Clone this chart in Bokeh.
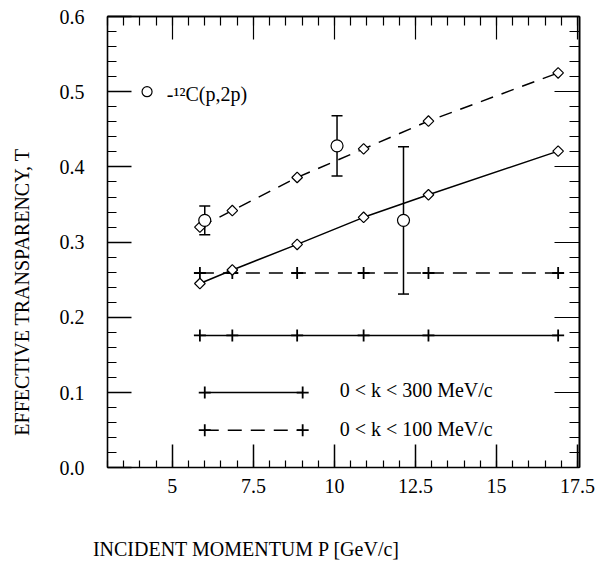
import math
from bokeh.plotting import figure
from bokeh.models import LinearAxis, FixedTicker, Range1d, Label
from bokeh.embed import file_html
from bokeh.resources import INLINE

# ---- data ----
p_model = [5.85, 6.85, 8.85, 10.9, 12.9, 16.9]
t_diamond_solid = [0.245, 0.263, 0.297, 0.333, 0.363, 0.421]
t_diamond_dashed = [0.320, 0.342, 0.386, 0.424, 0.461, 0.525]
t_cross_solid = [0.176, 0.176, 0.176, 0.176, 0.176, 0.176]
t_cross_dashed = [0.259, 0.259, 0.259, 0.259, 0.259, 0.259]

p_data = [6.0, 10.08, 12.13]
t_data = [0.329, 0.428, 0.329]
t_err = [0.019, 0.040, 0.098]

x_ticks = [5, 7.5, 10, 12.5, 15, 17.5]
x_tick_labels = ["5", "7.5", "10", "12.5", "15", "17.5"]
y_ticks = [0.0, 0.1, 0.2, 0.3, 0.4, 0.5, 0.6]
y_tick_labels = ["0.0", "0.1", "0.2", "0.3", "0.4", "0.5", "0.6"]

x_label = "INCIDENT MOMENTUM P [GeV/c]"
y_label = "EFFECTIVE TRANSPARENCY, T"
legend_c_label = "-\u00b9\u00b2C(p,2p)"
legend_solid_label = "0 < k < 300 MeV/c"
legend_dashed_label = "0 < k < 100 MeV/c"
legend_line_x = [6.0, 9.02]
legend_solid_y = [0.1, 0.1]
legend_dashed_y = [0.05, 0.05]

# ---- layout (plot box: x 3..17.545, y 0..0.6) ----
X0, X1 = 3.0, 17.545
Y0, Y1 = 0.0, 0.6
W, H = 598, 563
px_per_x = 32.42
px_per_y = 752.17
box_left_px, box_top_px = 107.0, 16.0
x_start = X0 - box_left_px / px_per_x
x_end = x_start + W / px_per_x
y_end = Y1 + box_top_px / px_per_y
y_start = y_end - H / px_per_y

FONT = "Liberation Serif"

p = figure(width=W, height=H, x_range=Range1d(x_start, x_end), y_range=Range1d(y_start, y_end),
           output_backend="svg", toolbar_location=None,
           min_border_left=0, min_border_right=0, min_border_top=0, min_border_bottom=0,
           x_axis_type=None, y_axis_type=None)
p.xgrid.visible = False
p.ygrid.visible = False
p.outline_line_color = None
p.background_fill_color = "white"
p.border_fill_color = "white"

x_minor = [3.0 + 0.5 * i for i in range(30)]
y_minor = [0.02 * i for i in range(31)]


def base_axis(loc, bounds, ticks, minor, major_in, minor_in):
    ax = LinearAxis(fixed_location=loc, bounds=bounds)
    ax.ticker = FixedTicker(ticks=ticks, minor_ticks=minor)
    ax.major_tick_in = major_in
    ax.major_tick_out = 0
    ax.minor_tick_in = minor_in
    ax.minor_tick_out = 0
    ax.axis_line_width = 1.6
    ax.axis_line_color = "black"
    ax.major_tick_line_width = 1.5
    ax.major_tick_line_color = "black"
    ax.minor_tick_line_width = 1.2
    ax.minor_tick_line_color = "black"
    ax.major_label_text_font = FONT
    ax.major_label_text_font_size = "20px"
    ax.major_label_text_color = "black"
    return ax


# bottom and left axes with labels
xb = base_axis(Y0, (X0, X1), x_ticks, x_minor, 23, 7)
xb.major_label_overrides = {t: l for t, l in zip(x_ticks, x_tick_labels)}
xb.major_label_standoff = 11
p.add_layout(xb, "below")

yl = base_axis(X0, (Y0, Y1), y_ticks, y_minor, 24, 9)
yl.major_label_overrides = {t: l for t, l in zip(y_ticks, y_tick_labels)}
yl.major_label_standoff = 23
p.add_layout(yl, "left")

# top and right mirrored ticks (no labels): long ticks and short ticks
p.add_layout(base_axis(Y1, (X0, X1), [], x_ticks, 0, 23), "above")
p.add_layout(base_axis(Y1, (X0, X1), [], x_minor, 0, 9), "above")
p.add_layout(base_axis(X1, (Y0, Y1), [], y_ticks, 0, 25), "right")
p.add_layout(base_axis(X1, (Y0, Y1), [], y_minor, 0, 10), "right")

# ---- model curves ----
p.line(p_model, t_cross_solid, line_color="black", line_width=1.5)
p.line(p_model, t_cross_dashed, line_color="black", line_width=1.5, line_dash="14 9")
p.line(p_model, t_diamond_solid, line_color="black", line_width=1.5)
p.line(p_model, t_diamond_dashed, line_color="black", line_width=1.5, line_dash="13 9")

p.scatter(p_model, t_cross_solid, marker="cross", size=12, line_color="black", line_width=1.8)
p.scatter(p_model, t_cross_dashed, marker="cross", size=12, line_color="black", line_width=1.8)
p.scatter(p_model, t_diamond_solid, marker="square", angle=math.pi / 4, size=7.5,
          fill_color="white", line_color="black", line_width=1.2)
p.scatter(p_model, t_diamond_dashed, marker="square", angle=math.pi / 4, size=7.5,
          fill_color="white", line_color="black", line_width=1.2)

# ---- data with error bars ----
upper = [t + e for t, e in zip(t_data, t_err)]
lower = [t - e for t, e in zip(t_data, t_err)]
p.segment(x0=p_data, y0=lower, x1=p_data, y1=upper, line_color="black", line_width=1.5)
p.scatter(p_data, upper, marker="dash", size=11, line_color="black", line_width=1.5)
p.scatter(p_data, lower, marker="dash", size=11, line_color="black", line_width=1.5)
p.scatter(p_data, t_data, marker="circle", size=12, fill_color="white",
          line_color="black", line_width=1.2)

# ---- in-plot legends ----
p.scatter([4.22], [0.5], marker="circle", size=10, fill_color="white",
          line_color="black", line_width=1.2)
p.add_layout(Label(x=4.83, y=0.497, text=legend_c_label, text_font=FONT,
                   text_font_size="20px", text_baseline="middle", text_color="black"))

p.line(legend_line_x, legend_solid_y, line_color="black", line_width=1.5)
p.scatter(legend_line_x, legend_solid_y, marker="cross", size=12, line_color="black", line_width=1.8)
p.line(legend_line_x, legend_dashed_y, line_color="black", line_width=1.5, line_dash="14 9")
p.scatter(legend_line_x, legend_dashed_y, marker="cross", size=12, line_color="black", line_width=1.8)
p.add_layout(Label(x=10.16, y=0.103, text=legend_solid_label, text_font=FONT,
                   text_font_size="20px", text_baseline="middle", text_color="black"))
p.add_layout(Label(x=10.16, y=0.052, text=legend_dashed_label, text_font=FONT,
                   text_font_size="20px", text_baseline="middle", text_color="black"))

# ---- axis titles (placed in the free area around the plot box) ----
p.add_layout(Label(x=0.363, y=0.2337, text=y_label, angle=math.pi / 2,
                   text_align="center", text_baseline="middle",
                   text_font=FONT, text_font_size="20px", text_color="black"))
p.add_layout(Label(x=7.287, y=-0.1085, text=x_label,
                   text_align="center", text_baseline="middle",
                   text_font=FONT, text_font_size="20px", text_color="black"))

open("out.html", "w").write(file_html(p, INLINE))
